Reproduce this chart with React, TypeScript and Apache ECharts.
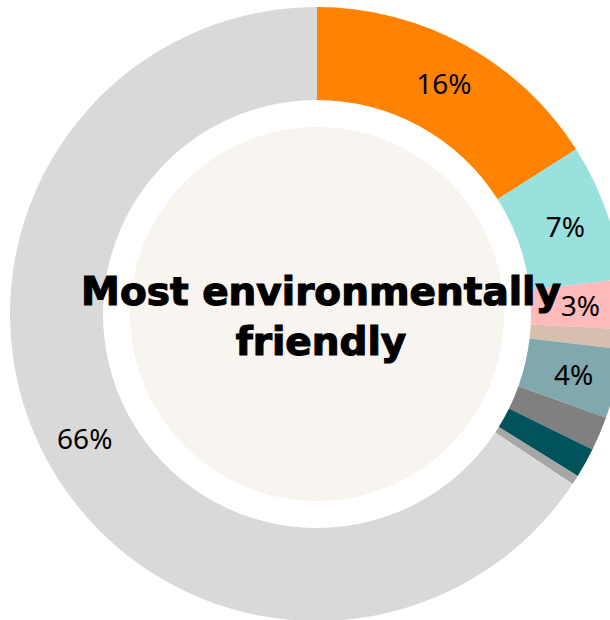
import React, { useEffect, useRef } from "react";
import * as echarts from "echarts";

const categories = [
  "Orange",
  "Turquoise",
  "Pink",
  "Tan",
  "Steel teal",
  "Grey",
  "Dark teal",
  "Mid grey",
  "Light grey",
];
const values = [16.0, 7.2, 2.6, 1.05, 3.65, 1.8, 1.57, 0.49, 65.7];
const colors = [
  "#FF8200",
  "#99E1DD",
  "#FFBABA",
  "#D8BEAE",
  "#7FA9AE",
  "#808080",
  "#00535B",
  "#A6A6A6",
  "#D9D9D9",
];
const showLabel = [true, true, true, false, true, false, false, false, true];
const centerTitle = "Most environmentally\nfriendly";

export default function App() {
  const ref = useRef<HTMLDivElement>(null);
  useEffect(() => {
    if (!ref.current) return;
    const chart = echarts.init(ref.current, null, { renderer: "svg" });
    const cx = 317;
    const cy = 314;
    chart.setOption({
      animation: false,
      backgroundColor: "#ffffff",
      series: [
        {
          type: "pie",
          silent: true,
          center: [cx, cy],
          radius: [0, 187],
          label: { show: false },
          labelLine: { show: false },
          itemStyle: { color: "#F8F5F0" },
          data: [{ name: "bg", value: 1 }],
        },
        {
          type: "pie",
          center: [cx, cy],
          radius: [214, 307],
          startAngle: 90,
          clockwise: true,
          avoidLabelOverlap: false,
          labelLine: { show: false },
          label: {
            show: true,
            position: "inside",
            color: "#000000",
            fontFamily: "Noto Sans",
            fontWeight: "normal",
            fontSize: 28,
            formatter: (p: any) => Math.round(p.value) + "%",
          },
          data: categories.map((c, i) => ({
            name: c,
            value: values[i],
            itemStyle: { color: colors[i] },
            label: { show: showLabel[i] },
          })),
        },
      ],
      graphic: [
        {
          type: "text",
          x: cx + 4,
          y: cy + 2,
          z: 100,
          style: {
            text: centerTitle,
            fill: "#000000",
            stroke: "#000000",
            lineWidth: 1.2,
            font: "bold 39px 'DejaVu Sans'",
            lineHeight: 50,
            align: "center",
            verticalAlign: "middle",
          },
        },
      ],
    });
    return () => chart.dispose();
  }, []);
  return (
    <div
      ref={ref}
      style={{ position: "absolute", left: 0, top: 0, width: 610, height: 620 }}
    />
  );
}
